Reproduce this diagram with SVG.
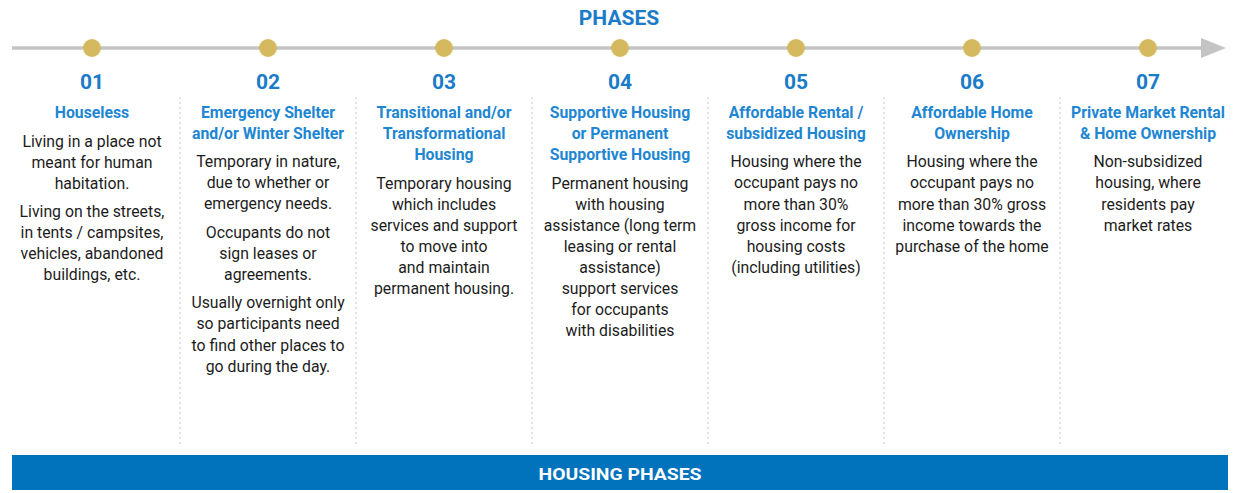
<svg xmlns="http://www.w3.org/2000/svg" width="1233" height="493" viewBox="0 0 1233 493">
<style>
.t{font-family:Roboto,"Liberation Sans",sans-serif;text-anchor:middle}
.h{font-size:15.8px;font-weight:700;fill:#1e86d2}
.b{font-size:15.8px;fill:#1c1c1c}
.n{font-size:21px;font-weight:700;fill:#1a7cc8}
.dot{fill:#d4b95e}
.div{stroke:#cfcfcf;stroke-width:1.2;stroke-dasharray:2 3}
</style>
<rect width="1233" height="493" fill="#fff"/>
<text class="t" x="619" y="25" style="font-size:21px;font-weight:700;fill:#1a7cc8">PHASES</text>
<g id="connectors">
<line x1="12" y1="48" x2="1204" y2="48" stroke="#c4c4c4" stroke-width="3.5"/>
<polygon points="1201,38 1226,48 1201,58" fill="#c4c4c4"/>
</g>
<g id="dividers">
<line class="div" x1="180" y1="97" x2="180" y2="447"/>
<line class="div" x1="356" y1="97" x2="356" y2="447"/>
<line class="div" x1="532" y1="97" x2="532" y2="447"/>
<line class="div" x1="708" y1="97" x2="708" y2="447"/>
<line class="div" x1="884" y1="97" x2="884" y2="447"/>
<line class="div" x1="1060" y1="97" x2="1060" y2="447"/>
</g>
<g id="phase01" class="t">
<circle class="dot" cx="92" cy="48" r="9"/>
<text class="n" x="92" y="89">01</text>
<text class="h" x="92" y="118">Houseless</text>
<text class="b" x="92" y="147">Living in a place not</text>
<text class="b" x="92" y="168">meant for human</text>
<text class="b" x="92" y="189">habitation.</text>
<text class="b" x="92" y="217">Living on the streets,</text>
<text class="b" x="92" y="238">in tents / campsites,</text>
<text class="b" x="92" y="259">vehicles, abandoned</text>
<text class="b" x="92" y="280">buildings, etc.</text>
</g>
<g id="phase02" class="t">
<circle class="dot" cx="268" cy="48" r="9"/>
<text class="n" x="268" y="89">02</text>
<text class="h" x="268" y="118">Emergency Shelter</text>
<text class="h" x="268" y="139">and/or Winter Shelter</text>
<text class="b" x="268" y="167">Temporary in nature,</text>
<text class="b" x="268" y="188">due to whether or</text>
<text class="b" x="268" y="209">emergency needs.</text>
<text class="b" x="268" y="238">Occupants do not</text>
<text class="b" x="268" y="259">sign leases or</text>
<text class="b" x="268" y="280">agreements.</text>
<text class="b" x="268" y="308">Usually overnight only</text>
<text class="b" x="268" y="329">so participants need</text>
<text class="b" x="268" y="351">to find other places to</text>
<text class="b" x="268" y="372">go during the day.</text>
</g>
<g id="phase03" class="t">
<circle class="dot" cx="444" cy="48" r="9"/>
<text class="n" x="444" y="89">03</text>
<text class="h" x="444" y="118">Transitional and/or</text>
<text class="h" x="444" y="139">Transformational</text>
<text class="h" x="444" y="160">Housing</text>
<text class="b" x="444" y="189">Temporary housing</text>
<text class="b" x="444" y="210">which includes</text>
<text class="b" x="444" y="231">services and support</text>
<text class="b" x="444" y="252">to move into</text>
<text class="b" x="444" y="273">and maintain</text>
<text class="b" x="444" y="294">permanent housing.</text>
</g>
<g id="phase04" class="t">
<circle class="dot" cx="620" cy="48" r="9"/>
<text class="n" x="620" y="89">04</text>
<text class="h" x="620" y="118">Supportive Housing</text>
<text class="h" x="620" y="139">or Permanent</text>
<text class="h" x="620" y="160">Supportive Housing</text>
<text class="b" x="620" y="189">Permanent housing</text>
<text class="b" x="620" y="210">with housing</text>
<text class="b" x="620" y="231">assistance (long term</text>
<text class="b" x="620" y="252">leasing or rental</text>
<text class="b" x="620" y="273">assistance)</text>
<text class="b" x="620" y="294">support services</text>
<text class="b" x="620" y="315">for occupants</text>
<text class="b" x="620" y="336">with disabilities</text>
</g>
<g id="phase05" class="t">
<circle class="dot" cx="796" cy="48" r="9"/>
<text class="n" x="796" y="89">05</text>
<text class="h" x="796" y="118">Affordable Rental /</text>
<text class="h" x="796" y="139">subsidized Housing</text>
<text class="b" x="796" y="167">Housing where the</text>
<text class="b" x="796" y="188">occupant pays no</text>
<text class="b" x="796" y="210">more than 30%</text>
<text class="b" x="796" y="231">gross income for</text>
<text class="b" x="796" y="252">housing costs</text>
<text class="b" x="796" y="273">(including utilities)</text>
</g>
<g id="phase06" class="t">
<circle class="dot" cx="972" cy="48" r="9"/>
<text class="n" x="972" y="89">06</text>
<text class="h" x="972" y="118">Affordable Home</text>
<text class="h" x="972" y="139">Ownership</text>
<text class="b" x="972" y="167">Housing where the</text>
<text class="b" x="972" y="188">occupant pays no</text>
<text class="b" x="972" y="210">more than 30% gross</text>
<text class="b" x="972" y="231">income towards the</text>
<text class="b" x="972" y="252">purchase of the home</text>
</g>
<g id="phase07" class="t">
<circle class="dot" cx="1148" cy="48" r="9"/>
<text class="n" x="1148" y="89">07</text>
<text class="h" x="1148" y="118">Private Market Rental</text>
<text class="h" x="1148" y="139">&amp; Home Ownership</text>
<text class="b" x="1148" y="167">Non-subsidized</text>
<text class="b" x="1148" y="188">housing, where</text>
<text class="b" x="1148" y="210">residents pay</text>
<text class="b" x="1148" y="231">market rates</text>
</g>
<g id="footer">
<rect x="12" y="455" width="1216" height="35" fill="#0073bc"/>
<text class="t" x="620" y="480" style="font-size:17px;font-weight:700;fill:#fff" textLength="163" lengthAdjust="spacingAndGlyphs">HOUSING PHASES</text>
</g>
</svg>
